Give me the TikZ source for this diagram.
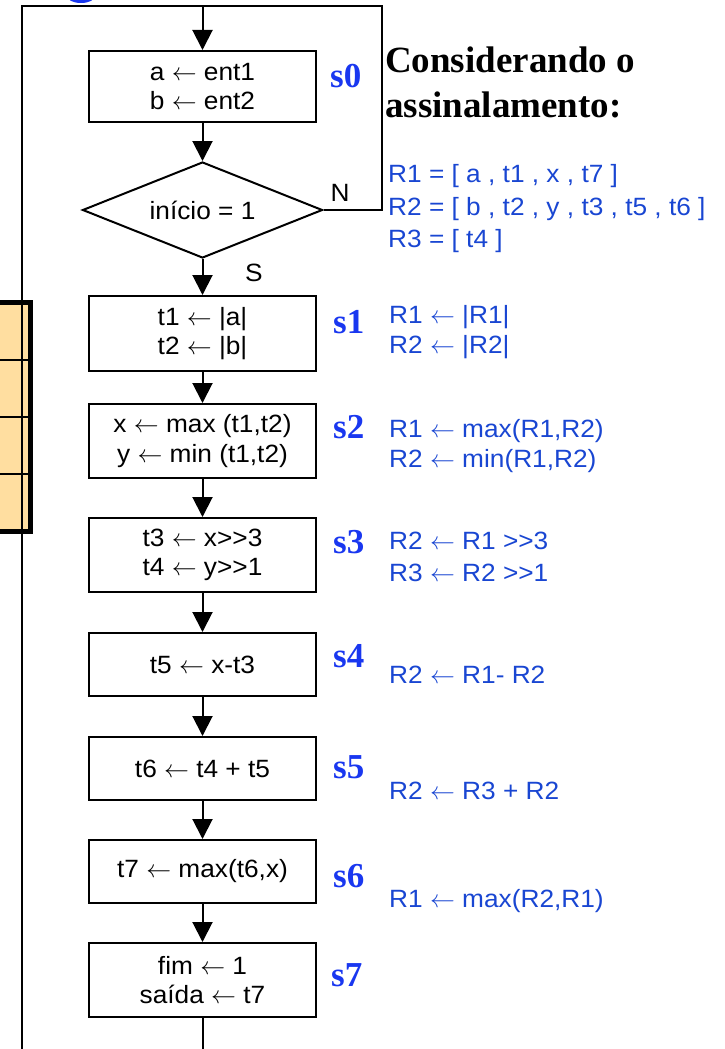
\documentclass[tikz,border=0pt]{standalone}
\usepackage{fontspec}
\setmainfont{Liberation Sans}[FakeStretch=1.05]
\newfontfamily\tmsfont{Liberation Serif}
\usetikzlibrary{arrows.meta,shapes.geometric}
\definecolor{txtblue}{RGB}{25,70,210}
\definecolor{sblue}{RGB}{25,55,240}
\definecolor{cellfill}{RGB}{255,222,160}
\newcommand\lar{\ensuremath{\leftarrow}}
\newcommand\shr{>{}>}
\begin{document}
\begin{tikzpicture}[x=1pt,y=-1pt,
  box/.style={draw, line width=2pt, minimum width=227pt, inner sep=0pt, align=center,
    font=\fontsize{25}{29.5}\selectfont},
  flow/.style={line width=2pt, -{Triangle[width=20pt,length=20pt]}},
  plain/.style={line width=2pt},
  slabel/.style={font=\tmsfont\bfseries\fontsize{35}{40}\selectfont, text=sblue, anchor=base west, inner sep=0pt},
  asg/.style={font=\fontsize{25}{29}\selectfont, text=txtblue, anchor=base west, inner sep=0pt},
  ttl/.style={font=\tmsfont\bfseries\fontsize{37}{44}\selectfont, anchor=base west, inner sep=0pt},
  yn/.style={font=\fontsize{25}{29}\selectfont, inner sep=0pt}]
\useasboundingbox (0,0) rectangle (725,1049);
% partial blue shape at top edge
\fill[sblue] (81,-4) ellipse [x radius=14, y radius=7];
% left table
\fill[cellfill] (0,302) rectangle (30,531);
\foreach \yy in {360,417,474} \draw[line width=1.3pt] (0,\yy) -- (30,\yy);
\draw[line width=5pt] (0,302) -- (30,302) -- (30,531) -- (0,531);
% boxes
\node[box, minimum height=71pt] (b0) at (202.5,86.5) {a \lar{} ent1\\b \lar{} ent2};
\node[draw, diamond, line width=2pt, minimum width=240pt, minimum height=96pt, aspect=2.5,
  inner sep=0pt, font=\fontsize{25}{29}\selectfont] (d) at (202.5,210) {início = 1};
\node[box, minimum height=75pt] (b1) at (202.5,333.5) {t1 \lar{} |a|\\t2 \lar{} |b|};
\node[box, minimum height=74pt] (b2) at (202.5,441) {x \lar{} max (t1,t2)\\y \lar{} min (t1,t2)};
\node[box, minimum height=74pt] (b3) at (202.5,555) {t3 \lar{} x\shr3\\t4 \lar{} y\shr1};
\node[box, minimum height=63pt] (b4) at (202.5,664.5) {t5 \lar{} x-t3};
\node[box, minimum height=63pt] (b5) at (202.5,768.5) {t6 \lar{} t4 + t5};
\node[box, minimum height=63pt] (b6) at (202.5,871.5) {t7 \lar{} max(t6,x)};
\node[box, minimum height=74pt] (b7) at (202.5,980) {fim \lar{} 1\\saída \lar{} t7};
% loop coordinates
\coordinate (topc) at (202.5,6);
\coordinate (nr) at (382,210);
\coordinate (tr) at (382,6);
\coordinate (tl) at (22,6);
\coordinate (bl) at (22,1060);
\coordinate (bout) at (202.5,1060);
% connectors
\draw[plain] (d.east) -- (nr) -- (tr) -- (tl) -- (bl);
\draw[flow] (topc) -- (b0.north);
\draw[flow] (b0.south) -- (d.north);
\draw[flow] (d.south) -- (b1.north);
\draw[flow] (b1.south) -- (b2.north);
\draw[flow] (b2.south) -- (b3.north);
\draw[flow] (b3.south) -- (b4.north);
\draw[flow] (b4.south) -- (b5.north);
\draw[flow] (b5.south) -- (b6.north);
\draw[flow] (b6.south) -- (b7.north);
\draw[plain] (b7.south) -- (bout);
% branch labels
\node[yn] (nlab) at (340,193) {N};
\node[yn] (slab) at (254,273) {S};
% title
\node[ttl] (t1) at (385,73) {Considerando o};
\node[ttl] (t2) at (385,117) {assinalamento:};
% register allocation
\node[asg] (r1) at (388,182) {R1 = [ a , t1 , x , t7 ]};
\node[asg] (r2) at (388,215) {R2 = [ b , t2 , y , t3 , t5 , t6 ]};
\node[asg] (r3) at (388,247) {R3 = [ t4 ]};
% state labels
\node[slabel] (s0) at (330,87) {s0};
\node[slabel] (s1) at (333,333) {s1};
\node[slabel] (s2) at (333,438) {s2};
\node[slabel] (s3) at (333,553) {s3};
\node[slabel] (s4) at (333,667) {s4};
\node[slabel] (s5) at (333,778) {s5};
\node[slabel] (s6) at (333,887) {s6};
\node[slabel] (s7) at (331,986) {s7};
% register operations
\node[asg] (o1a) at (389,323) {R1 \lar{} |R1|};
\node[asg] (o1b) at (389,353) {R2 \lar{} |R2|};
\node[asg] (o2a) at (389,437) {R1 \lar{} max(R1,R2)};
\node[asg] (o2b) at (389,467) {R2 \lar{} min(R1,R2)};
\node[asg] (o3a) at (389,549) {R2 \lar{} R1 \shr3};
\node[asg] (o3b) at (389,581) {R3 \lar{} R2 \shr1};
\node[asg] (o4) at (389,683) {R2 \lar{} R1- R2};
\node[asg] (o5) at (389,799) {R2 \lar{} R3 + R2};
\node[asg] (o6) at (389,907) {R1 \lar{} max(R2,R1)};
\end{tikzpicture}
\end{document}
